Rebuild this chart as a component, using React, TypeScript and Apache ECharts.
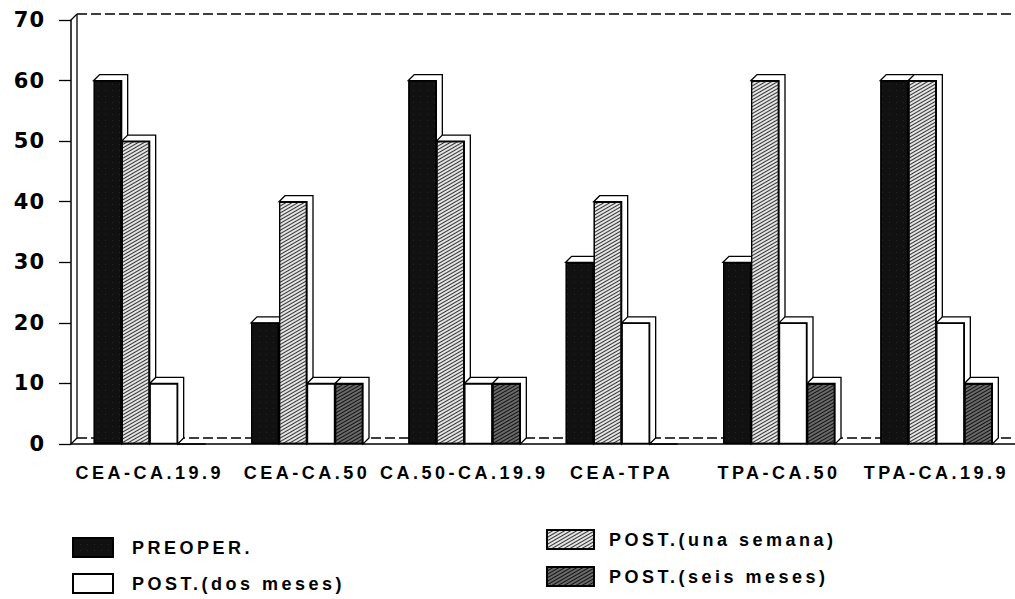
import React, { useEffect, useRef } from "react";
import * as echarts from "echarts";

const categories = ["CEA-CA.19.9", "CEA-CA.50", "CA.50-CA.19.9", "CEA-TPA", "TPA-CA.50", "TPA-CA.19.9"];
const seriesNames = ["PREOPER.", "POST.(una semana)", "POST.(dos meses)", "POST.(seis meses)"];
const preoper = [60, 20, 60, 30, 30, 60];
const unaSemana = [50, 40, 50, 40, 60, 60];
const dosMeses = [10, 10, 10, 20, 20, 20];
const seisMeses = [0, 10, 10, 0, 10, 10];
const yTicks = [0, 10, 20, 30, 40, 50, 60, 70];

const BAR_W = 28;
const DEPTH = 6;
const GRID_LEFT = 71;
const GRID_TOP = 20;
const GRID_H = 424;
const BAND = 158.5;

const FONT = "'Liberation Sans', Arial, sans-serif";
const YFONT = "'DejaVu Sans', sans-serif";

export default function App() {
  const ref = useRef<HTMLDivElement>(null);
  useEffect(() => {
    if (!ref.current) return;
    const chart = echarts.init(ref.current, null, { renderer: "svg" });
    const values = [preoper, unaSemana, dosMeses, seisMeses];
    const styles = [
      {
        color: "#111",
        borderColor: "#000",
        borderWidth: 1.2,
        decal: { symbol: "rect", symbolSize: 0.5, dashArrayX: [1, 6], dashArrayY: [1, 5], color: "rgba(255,255,255,0.35)" },
      },
      {
        color: "#e4e4e4",
        borderColor: "#000",
        borderWidth: 1.2,
        decal: { symbol: "rect", symbolSize: 1, dashArrayX: [1, 0], dashArrayY: [1, 2], rotation: -Math.PI / 6, color: "#333" },
      },
      { color: "#fff", borderColor: "#000", borderWidth: 1.2 },
      {
        color: "#6a6a6a",
        borderColor: "#000",
        borderWidth: 1.2,
        decal: { symbol: "rect", symbolSize: 1, dashArrayX: [1, 0], dashArrayY: [1, 1.5], rotation: -Math.PI / 6, color: "#111" },
      },
    ];
    const barSeries = values.map((arr, i) => ({
      name: seriesNames[i],
      type: "bar",
      data: arr,
      barWidth: BAR_W,
      barGap: "0%",
      z: 3,
      itemStyle: styles[i],
    }));
    const extrudeData: number[][] = [];
    categories.forEach((_, c) => {
      values.forEach((arr, s) => extrudeData.push([c, arr[c], s]));
    });
    const n = values.length;
    const extrude = {
      type: "custom",
      name: "3d",
      silent: true,
      z: 1,
      data: extrudeData,
      renderItem: (params: any, api: any) => {
        const c = api.value(0);
        const v = api.value(1);
        const s = api.value(2);
        if (!v) return null;
        const top = api.coord([c, v]);
        const base = api.coord([c, 0]);
        const off = (s - (n - 1) / 2) * BAR_W;
        const L = top[0] + off - BAR_W / 2;
        const R = L + BAR_W;
        const T = top[1];
        const B = base[1];
        return {
          type: "polygon",
          shape: {
            points: [
              [L, T],
              [L + DEPTH, T - DEPTH],
              [R + DEPTH, T - DEPTH],
              [R + DEPTH, B - DEPTH],
              [R, B],
              [R, T],
            ],
          },
          style: { fill: "#fff", stroke: "#000", lineWidth: 1.3 },
        };
      },
    };
    const bx = GRID_LEFT + DEPTH;
    const by = GRID_TOP - DEPTH;
    const fy = GRID_TOP + GRID_H - DEPTH;
    const lineStyle = { stroke: "#000", lineWidth: 1.3 };
    const legendPos = [
      { left: 72, top: 537, w: 40, pad: 19 },
      { left: 546, top: 529, w: 47, pad: 15 },
      { left: 72, top: 573, w: 40, pad: 19 },
      { left: 546, top: 566, w: 47, pad: 15 },
    ];
    const legends = seriesNames.map((name, i) => ({
      left: legendPos[i].left,
      top: legendPos[i].top,
      padding: 0,
      icon: "rect",
      itemWidth: legendPos[i].w,
      itemHeight: 19,
      data: [name],
      textStyle: { fontSize: 18, fontWeight: "bold", color: "#000", fontFamily: FONT, padding: [0, 0, 0, legendPos[i].pad - 5] },
    }));
    chart.setOption({
      animation: false,
      backgroundColor: "#fff",
      textStyle: { fontFamily: FONT },
      grid: { left: GRID_LEFT, top: GRID_TOP, height: GRID_H, width: BAND * categories.length },
      xAxis: {
        type: "category",
        data: categories,
        axisLine: { lineStyle: { color: "#000", width: 1.5 } },
        axisTick: { alignWithLabel: true, length: 11, lineStyle: { color: "#000", width: 1.3 } },
        axisLabel: { interval: 0, color: "#000", fontSize: 18, fontWeight: "bold", fontFamily: FONT, margin: 20 },
      },
      yAxis: {
        type: "value",
        min: yTicks[0],
        max: yTicks[yTicks.length - 1],
        interval: 10,
        axisLine: { show: true, lineStyle: { color: "#000", width: 1.5 } },
        axisTick: { show: true, length: 12, lineStyle: { color: "#000", width: 1.3 } },
        splitLine: { show: false },
        axisLabel: { color: "#000", fontSize: 21, fontWeight: "bold", fontFamily: YFONT, margin: 26 },
      },
      legend: legends,
      graphic: [
        { type: "line", z: 0, shape: { x1: bx, y1: by, x2: bx, y2: fy }, style: lineStyle },
        { type: "line", z: 0, shape: { x1: bx, y1: by, x2: 1015, y2: by }, style: { ...lineStyle, lineDash: [10, 4] } },
        { type: "line", z: 0, shape: { x1: bx, y1: fy, x2: 1015, y2: fy }, style: { ...lineStyle, lineDash: [10, 4] } },
        { type: "line", z: 0, shape: { x1: GRID_LEFT, y1: GRID_TOP + GRID_H, x2: bx, y2: fy }, style: lineStyle },
        { type: "line", z: 0, shape: { x1: GRID_LEFT, y1: GRID_TOP, x2: bx, y2: by }, style: lineStyle },
      ],
      series: [extrude, ...barSeries],
    });
    return () => chart.dispose();
  }, []);
  return (
    <>
      <style>{`.scanchart text { letter-spacing: 3.5px; } .scanchart text[style*="DejaVu"] { letter-spacing: 1px; }`}</style>
      <div
        ref={ref}
        className="scanchart"
        style={{ position: "absolute", left: 0, top: 0, width: 1015, height: 599, background: "#fff" }}
      />
    </>
  );
}
